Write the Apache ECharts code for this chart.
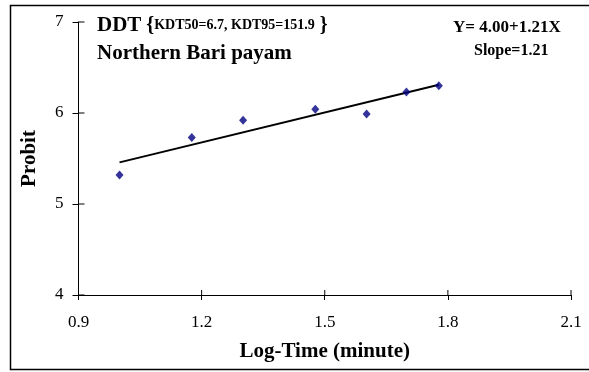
<!DOCTYPE html>
<html>
<head>
<meta charset="utf-8">
<script src="https://cdn.jsdelivr.net/npm/echarts@6/dist/echarts.min.js"></script>
<style>
  html, body { margin: 0; padding: 0; background: #fff; }
  #chart { width: 589px; height: 372px; }
</style>
</head>
<body>
<div id="chart"></div>
<script>
// Log-time (log10 of exposure minutes) and observed probit values
const logTime = [1.0, 1.176, 1.301, 1.477, 1.602, 1.699, 1.778];
const probit = [5.32, 5.73, 5.92, 6.04, 5.99, 6.23, 6.30];
const xTicks = [0.9, 1.2, 1.5, 1.8, 2.1];
const yTicks = [4, 5, 6, 7];

// Least-squares fit drawn across the observed range
function fitLine(xs, ys) {
  const n = xs.length;
  const mx = xs.reduce((a, b) => a + b, 0) / n;
  const my = ys.reduce((a, b) => a + b, 0) / n;
  let sxy = 0, sxx = 0;
  for (let i = 0; i < n; i++) {
    sxy += (xs[i] - mx) * (ys[i] - my);
    sxx += (xs[i] - mx) * (xs[i] - mx);
  }
  const b = sxy / sxx;
  return { a: my - b * mx, b: b };
}
const fit = fitLine(logTime, probit);
const xMin = Math.min(...logTime), xMax = Math.max(...logTime);
const fitData = [[xMin, fit.a + fit.b * xMin], [xMax, fit.a + fit.b * xMax]];

const serif = 'Liberation Serif';
const chart = echarts.init(document.getElementById('chart'));

const xLo = xTicks[0], xHi = xTicks[xTicks.length - 1];
const yLo = yTicks[0], yHi = yTicks[yTicks.length - 1];

// inner halves of the cross ticks: [x, y, direction] (0 = up from x axis, 1 = right from y axis)
const innerTicks = xTicks.map(v => [v, yLo, 0]).concat(yTicks.map(v => [xLo, v, 1]));

chart.setOption({
  animation: false,
  grid: { left: 78.5, right: 18, top: 22, bottom: 77 },
  xAxis: {
    type: 'value',
    min: xLo, max: xHi, interval: xTicks[1] - xTicks[0],
    name: 'Log-Time (minute)',
    nameLocation: 'middle',
    nameGap: 46,
    nameTextStyle: { fontFamily: serif, fontWeight: 'bold', fontSize: 21, color: '#000' },
    axisLine: { show: true, lineStyle: { color: '#000', width: 1 } },
    axisTick: { show: true, length: 5, lineStyle: { color: '#000' } },
    axisLabel: {
      fontFamily: serif, fontSize: 17, color: '#000', margin: 19,
      formatter: v => v.toFixed(1)
    },
    splitLine: { show: false }
  },
  yAxis: {
    type: 'value',
    min: yLo, max: yHi, interval: yTicks[1] - yTicks[0],
    name: 'Probit',
    nameLocation: 'middle',
    nameGap: 38,
    nameRotate: 90,
    nameTextStyle: { fontFamily: serif, fontWeight: 'bold', fontSize: 21, color: '#000' },
    axisLine: { show: true, lineStyle: { color: '#000', width: 1 } },
    axisTick: { show: true, length: 6, lineStyle: { color: '#000' } },
    axisLabel: { fontFamily: serif, fontSize: 17, color: '#000', margin: 15 },
    splitLine: { show: false }
  },
  series: [
    {
      type: 'custom',
      silent: true,
      clip: false,
      data: innerTicks,
      renderItem: function (params, api) {
        const p = api.coord([api.value(0), api.value(1)]);
        const up = api.value(2) === 0;
        const q = up ? [p[0], p[1] - 5] : [p[0] + 6, p[1]];
        return {
          type: 'line',
          shape: { x1: p[0], y1: p[1], x2: q[0], y2: q[1] },
          style: { stroke: '#000', lineWidth: 1 }
        };
      },
      z: 1
    },
    {
      type: 'line',
      data: fitData,
      showSymbol: false,
      lineStyle: { color: '#000', width: 2 },
      silent: true,
      z: 2
    },
    {
      type: 'scatter',
      data: logTime.map((x, i) => [x, probit[i]]),
      symbol: 'diamond',
      symbolSize: [8, 9],
      itemStyle: { color: '#000080' },
      z: 3
    }
  ],
  graphic: [
    {
      type: 'rect',
      shape: { x: 10.5, y: 5.5, width: 600, height: 364 },
      style: { fill: 'none', stroke: '#000', lineWidth: 1.5 },
      silent: true
    },
    {
      type: 'text', left: 97, top: 15,
      style: {
        text: '{a|DDT} {{c|KDT50=6.7, KDT95=151.9} }',
        fontFamily: serif, fontWeight: 'bold', fontSize: 20, fill: '#000',
        rich: {
          a: { fontFamily: serif, fontWeight: 'bold', fontSize: 21, fill: '#000' },
          c: { fontFamily: serif, fontWeight: 'bold', fontSize: 14, fill: '#000' }
        }
      }
    },
    {
      type: 'text', left: 97, top: 43,
      style: {
        text: 'Northern Bari payam',
        fontFamily: serif, fontWeight: 'bold', fontSize: 21, fill: '#000'
      }
    },
    {
      type: 'text', left: 453, top: 19,
      style: {
        text: 'Y= 4.00+1.21X',
        fontFamily: serif, fontWeight: 'bold', fontSize: 17, fill: '#000'
      }
    },
    {
      type: 'text', left: 474, top: 43,
      style: {
        text: 'Slope=1.21',
        fontFamily: serif, fontWeight: 'bold', fontSize: 16, fill: '#000'
      }
    }
  ]
});
</script>
</body>
</html>
